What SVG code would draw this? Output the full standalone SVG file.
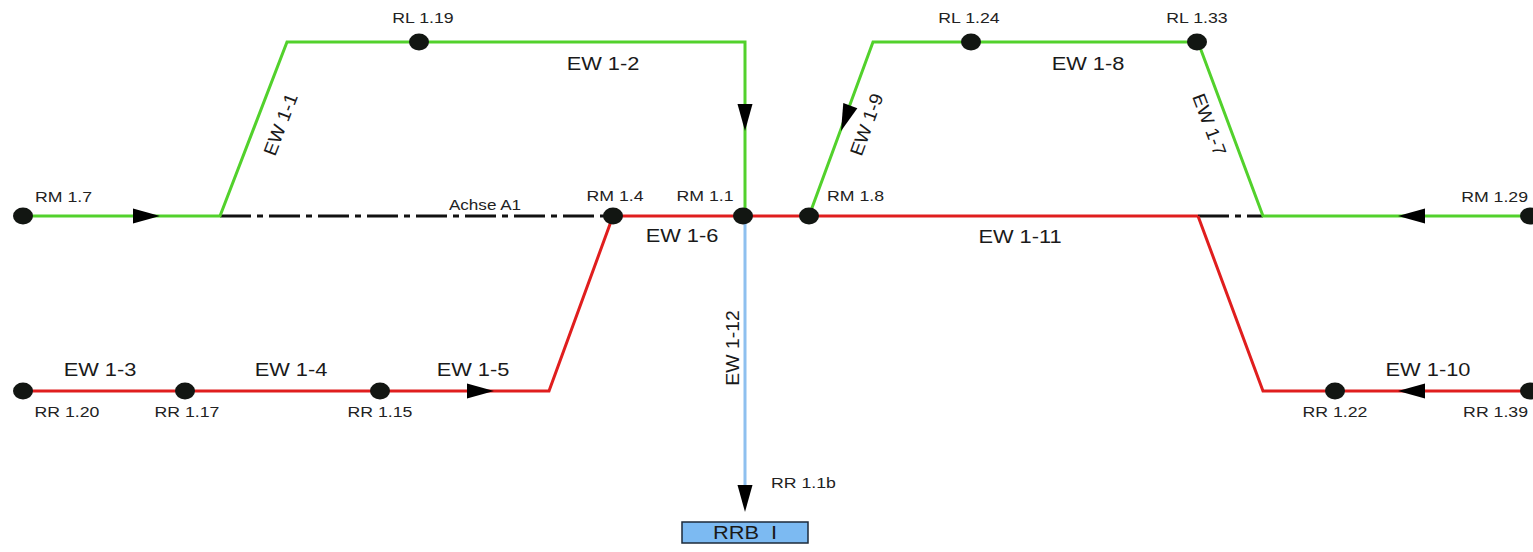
<svg xmlns="http://www.w3.org/2000/svg" width="1533" height="552" viewBox="0 0 1533 552">
  <style>
    .g { stroke: #52d12c; stroke-width: 3; fill: none; stroke-linejoin: miter; }
    .r { stroke: #e01e1e; stroke-width: 3; fill: none; }
    .b { stroke: #8ec0ef; stroke-width: 3; fill: none; }
    .axis { stroke: #111; stroke-width: 3; fill: none; stroke-dasharray: 31 6 6 6; }
    .dot { fill: #121612; }
    .lbl { font-family: "Liberation Sans", Arial, sans-serif; font-size: 15px; fill: #222; }
    .ew { font-family: "Liberation Sans", Arial, sans-serif; font-size: 18.5px; fill: #1a1a1a; }
    .head { fill: #000; }
  </style>
  <defs>
    <!-- arrowhead, tip at origin, pointing along +x -->
    <path id="ah" d="M0,0 L-27,-7.5 L-27,7.5 Z"/>
  </defs>

  <rect width="1533" height="552" fill="#fff"/>

  <!-- connectors -->
  <g id="connectors">
    <!-- axis A1 (dash-dot) -->
    <line class="axis" x1="220" y1="216" x2="613" y2="216"/>
    <line class="axis" x1="1198" y1="216" x2="1263" y2="216"/>

    <!-- green: RM 1.7 -> EW 1-1 -> EW 1-2 -> RM 1.1 -->
    <polyline class="g" points="23,216 220,216 287,42 745,42 745,216"/>
    <!-- green: RM 1.8 -> EW 1-9 -> EW 1-8 -> EW 1-7 -> RM 1.29 -->
    <polyline class="g" points="809,216 873,42 1198,42 1263,216 1530,216"/>

    <!-- red: EW 1-3 .. EW 1-5 -> RM 1.4 -> EW 1-6 -> EW 1-11 -->
    <polyline class="r" points="23,391 549,391 613,216 1198,216"/>
    <!-- red: EW 1-11 branch -> EW 1-10 -->
    <polyline class="r" points="1198,216 1263,391 1530,391"/>

    <!-- blue: EW 1-12 -->
    <line class="b" x1="745" y1="216" x2="745" y2="490"/>

    <!-- arrowheads -->
    <use href="#ah" class="head" transform="translate(160,216)"/>
    <use href="#ah" class="head" transform="translate(745,131) rotate(90)"/>
    <use href="#ah" class="head" transform="translate(841,131) rotate(110.2)"/>
    <use href="#ah" class="head" transform="translate(1398,216) rotate(180)"/>
    <use href="#ah" class="head" transform="translate(494,391)"/>
    <use href="#ah" class="head" transform="translate(1398,391) rotate(180)"/>
    <use href="#ah" class="head" transform="translate(745,512) rotate(90)"/>

    <!-- section labels (slightly wide lettering) -->
    <text class="ew" text-anchor="middle" dominant-baseline="middle" transform="translate(282 125) rotate(-69) scale(1.05 1)">EW 1-1</text>
    <text class="ew" text-anchor="middle" transform="translate(603 70) scale(1.18 1)">EW 1-2</text>
    <text class="ew" text-anchor="middle" transform="translate(100 376) scale(1.18 1)">EW 1-3</text>
    <text class="ew" text-anchor="middle" transform="translate(291 376) scale(1.18 1)">EW 1-4</text>
    <text class="ew" text-anchor="middle" transform="translate(473 376) scale(1.18 1)">EW 1-5</text>
    <text class="ew" text-anchor="middle" transform="translate(682 242) scale(1.18 1)">EW 1-6</text>
    <text class="ew" text-anchor="middle" dominant-baseline="middle" transform="translate(1208 125) rotate(69.5) scale(1.05 1)">EW 1-7</text>
    <text class="ew" text-anchor="middle" transform="translate(1088 70) scale(1.18 1)">EW 1-8</text>
    <text class="ew" text-anchor="middle" dominant-baseline="middle" transform="translate(868 125) rotate(-70) scale(1.05 1)">EW 1-9</text>
    <text class="ew" text-anchor="middle" transform="translate(1428 376) scale(1.18 1)">EW 1-10</text>
    <text class="ew" text-anchor="middle" transform="translate(1020 243) scale(1.18 1)">EW 1-11</text>
    <text class="ew" text-anchor="middle" dominant-baseline="middle" transform="translate(734 348) rotate(-90) scale(1.05 1)">EW 1-12</text>
    <text class="lbl" text-anchor="middle" transform="translate(485 210) scale(1.14 1)">Achse A1</text>
  </g>

  <!-- nodes -->
  <g id="RM1.7"><ellipse class="dot" cx="23" cy="216" rx="10" ry="8.5"/><text class="lbl" transform="translate(35 202) scale(1.18 1)">RM 1.7</text></g>
  <g id="RM1.4"><ellipse class="dot" cx="613" cy="216" rx="10" ry="8.5"/><text class="lbl" text-anchor="middle" transform="translate(615 201) scale(1.18 1)">RM 1.4</text></g>
  <g id="RM1.1"><ellipse class="dot" cx="743" cy="216" rx="10" ry="8.5"/><text class="lbl" text-anchor="middle" transform="translate(705 201) scale(1.18 1)">RM 1.1</text></g>
  <g id="RM1.8"><ellipse class="dot" cx="809" cy="216" rx="10" ry="8.5"/><text class="lbl" transform="translate(827 201) scale(1.18 1)">RM 1.8</text></g>
  <g id="RM1.29"><ellipse class="dot" cx="1530" cy="216" rx="10" ry="8.5"/><text class="lbl" text-anchor="end" transform="translate(1528 202) scale(1.18 1)">RM 1.29</text></g>

  <g id="RL1.19"><ellipse class="dot" cx="419" cy="42" rx="10" ry="8.5"/><text class="lbl" text-anchor="middle" transform="translate(423 23) scale(1.18 1)">RL 1.19</text></g>
  <g id="RL1.24"><ellipse class="dot" cx="971" cy="42" rx="10" ry="8.5"/><text class="lbl" text-anchor="middle" transform="translate(969 23) scale(1.18 1)">RL 1.24</text></g>
  <g id="RL1.33"><ellipse class="dot" cx="1197" cy="42" rx="10" ry="8.5"/><text class="lbl" text-anchor="middle" transform="translate(1197 23) scale(1.18 1)">RL 1.33</text></g>

  <g id="RR1.20"><ellipse class="dot" cx="23" cy="391" rx="10" ry="8.5"/><text class="lbl" text-anchor="middle" transform="translate(67 417) scale(1.18 1)">RR 1.20</text></g>
  <g id="RR1.17"><ellipse class="dot" cx="185" cy="391" rx="10" ry="8.5"/><text class="lbl" text-anchor="middle" transform="translate(187 417) scale(1.18 1)">RR 1.17</text></g>
  <g id="RR1.15"><ellipse class="dot" cx="380" cy="391" rx="10" ry="8.5"/><text class="lbl" text-anchor="middle" transform="translate(380 417) scale(1.18 1)">RR 1.15</text></g>
  <g id="RR1.22"><ellipse class="dot" cx="1335" cy="391" rx="10" ry="8.5"/><text class="lbl" text-anchor="middle" transform="translate(1335 417) scale(1.18 1)">RR 1.22</text></g>
  <g id="RR1.39"><ellipse class="dot" cx="1530" cy="391" rx="10" ry="8.5"/><text class="lbl" text-anchor="end" transform="translate(1528 417) scale(1.18 1)">RR 1.39</text></g>

  <g id="RR1.1b"><text class="lbl" transform="translate(771 488) scale(1.18 1)">RR 1.1b</text></g>

  <g id="RRB-I">
    <rect x="682" y="522" width="126" height="21" fill="#7cbaf2" stroke="#1c2a3a" stroke-width="1.5"/>
    <text class="ew" text-anchor="middle" transform="translate(745 539) scale(1.18 1)" xml:space="preserve">RRB  I</text>
  </g>
</svg>
